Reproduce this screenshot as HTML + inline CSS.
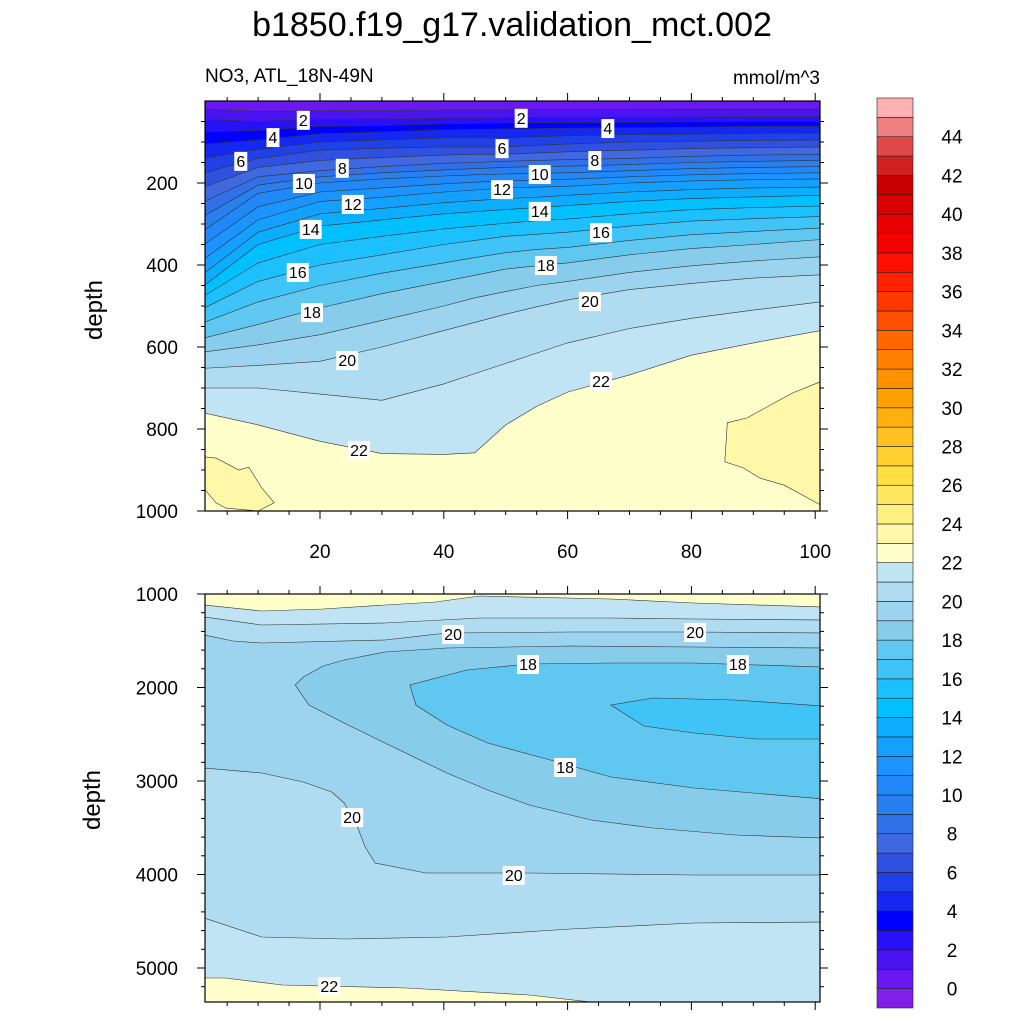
<!DOCTYPE html>
<html><head><meta charset="utf-8"><style>
body{margin:0;background:#fff;}
svg{display:block;font-family:"Liberation Sans",Arial,sans-serif;}
</style></head><body>
<svg id="c" width="1024" height="1024" viewBox="0 0 1024 1024">
<text x="512" y="36" font-size="34" text-anchor="middle">b1850.f19_g17.validation_mct.002</text>
<text x="205" y="82" font-size="19">NO3, ATL_18N-49N</text>
<text x="820" y="84" font-size="19" text-anchor="end">mmol/m^3</text>
<text transform="translate(102,310) rotate(-90)" font-size="24" text-anchor="middle">depth</text>
<text transform="translate(100,800) rotate(-90)" font-size="24" text-anchor="middle">depth</text>
<defs>
<clipPath id="clipTop"><rect x="205" y="101" width="615" height="410"/></clipPath>
<clipPath id="clipBot"><rect x="205" y="594" width="615" height="408"/></clipPath>
</defs>
<g id="top" clip-path="url(#clipTop)"></g>
<g id="bot" clip-path="url(#clipBot)"></g>
<g id="axes"></g>
<g id="cbar"></g>
</svg>
<script>
// ---- data ----
const bandColors = ["#8020E8","#6A18F0","#4A14F0","#2810F8","#0000FF","#1428F0","#2040E8","#3050E0","#4068E0","#3070E8","#2880F0","#2088F8","#1C94FF","#14A0FF","#0CACFF","#00C0FF","#1CC0FF","#40C4F8","#60C8F0","#88CCEC","#9CD4F0","#B0DCF2","#C0E4F4","#FFFFCC","#FFF8A8","#FFF080","#FFE860","#FFE040","#FFD030","#FFC020","#FFB010","#FFA000","#FF9000","#FF8000","#FF6800","#FF5000","#FF3800","#FF2000","#FF1000","#F80000","#E80000","#D80000","#C80000","#D02020","#E04848","#F08080","#FFB0B0"];
const cbarLabels = [0,2,4,6,8,10,12,14,16,18,20,22,24,26,28,30,32,34,36,38,40,42,44];
// upper panel: isoline depths of levels 1..22 at each station
const topStations = [1.3,10,20,30,40,45,50,55,60,70,80,90,100.8];
const topProfiles = [
[20,45,75,105,140,175,210,245,280,315,350,385,420,450,475,505,540,578,612,652,700,761],
[25,50,72,95,118,140,162,185,205,225,258,290,320,350,395,440,490,545,595,645,700,790],
[24,45,62,80,100,120,145,170,185,200,222,245,275,305,350,400,450,505,570,635,715,830],
[23,44,60,75,95,115,138,160,175,190,212,235,262,290,330,375,420,470,535,600,730,860],
[22,42,56,70,90,112,132,152,168,183,202,222,248,275,312,350,395,440,500,560,690,862],
[22,42,55,69,90,112,130,150,165,180,198,217,243,270,305,340,382,425,480,540,665,858],
[22,41,54,68,90,112,130,147,162,178,195,212,238,265,298,330,370,410,465,520,640,790],
[21,40,53,67,87,108,127,145,160,176,193,210,235,260,292,325,362,402,450,502,615,745],
[21,40,53,66,85,105,124,143,159,175,191,208,230,255,288,320,357,395,440,485,590,710],
[21,40,52,65,82,100,120,140,155,170,185,200,222,245,275,305,340,375,418,460,555,668],
[20,39,51,64,81,98,116,135,150,165,180,195,216,238,265,293,326,360,402,445,530,620],
[20,38,50,62,79,96,114,132,147,162,177,192,212,234,260,287,318,350,390,432,510,590],
[20,38,50,62,78,95,112,130,145,160,175,190,210,230,256,282,310,338,380,424,490,560]
];
const patchLeftX = [1.3,3.2,6.9,8.5,10.6,12.6,10,4.8,3.2,1.3];
const patchLeftD = [868,871,900,893,944,980,1000,993,980,946];
const patchRightX = [100.8,96.4,93.7,89,85.8,85.4,88.4,91.1,95,100.8];
const patchRightD = [685,712,734,773,785,880,895,920,937,985];
const topLabels = [[2,17.3,46],[2,52.5,41],[4,12.4,88],[4,66.5,66],[6,7.2,146],[6,49.4,115],[8,23.6,163],[8,64.4,144],[10,17.4,200],[10,55.5,178],[12,25.3,251],[12,49.4,215],[14,18.5,312],[14,55.5,268],[16,16.4,417],[16,65.4,320],[18,18.7,515],[18,56.5,400],[20,63.6,488],[20,24.4,632],[22,65.4,683],[22,26.3,851]];
// lower panel isolines
const l22TopX=[1.3,10.6,20.5,30.5,38.6,45.8,67,80.4,101.3], l22TopD=[1118,1182,1160,1118,1086,1021,1053,1096,1139];
const l21TopX=[1.3,10.6,30.5,45.8,67,80.4,101.3], l21TopD=[1246,1332,1310,1257,1257,1267,1278];
const l20TopX=[1.3,6,10.6,30.5,40.5,60.4,80.4,101.3], l20TopD=[1439,1503,1524,1492,1417,1406,1406,1417];
const l19X=[101.3,80.4,60.4,40.5,30.5,23.9,20.5,17.3,16,18.2,23.9,30.5,40.5,47.1,53.8,63.8,73.8,87.1,101.3];
const l19D=[1578,1567,1556,1578,1620,1706,1770,1888,1973,2187,2380,2594,2914,3096,3257,3417,3503,3578,3610];
const l18X=[101.3,80.4,67.2,53.8,43.7,34.5,35.5,40.5,47.1,57.2,67,80.4,101.3];
const l18D=[1781,1738,1738,1749,1813,1973,2187,2401,2594,2775,2957,3075,3193];
const l17X=[101.3,87.1,73.8,67,72.3,80.4,90.3,101.3], l17D=[2198,2134,2112,2187,2412,2487,2551,2551];
const l20LowX=[1.3,10.6,17.3,21.9,23.9,25.8,27.3,28.9,37.1,53.8,80.4,101.3];
const l20LowD=[2861,2914,3011,3118,3235,3449,3706,3877,3984,3984,4005,4005];
const l21LowX=[1.3,10.6,23.9,40.5,60.4,80.4,101.3], l21LowD=[4465,4668,4690,4668,4583,4519,4508];
const l22LowX=[1.3,4.7,13.9,33.9,53.8,65.1], l22LowD=[5107,5107,5182,5214,5289,5374];
const botLabels=[[20,41.5,1428],[20,80.6,1406],[18,53.6,1749],[18,87.5,1749],[18,59.6,2850],[20,25.2,3385],[20,51.3,4005],[22,21.5,5193]];
const xTicks=[20,40,60,80,100];
const topYTicks=[200,400,600,800,1000];
const botYTicks=[1000,2000,3000,4000,5000];

// ---- scales ----
const NS="http://www.w3.org/2000/svg";
const L=205,R=820;
const sx=v=>320+(v-20)*6.19;
const syT=d=>101+d*0.41;
const syB=d=>594+(d-1000)*0.0935;
function mk(tag,attrs,parent){const e=document.createElementNS(NS,tag);for(const k in attrs)e.setAttribute(k,attrs[k]);parent.appendChild(e);return e;}
function pts(xs,ds,sy){return xs.map((x,i)=>sx(x).toFixed(1)+","+sy(ds[i]).toFixed(1));}
const col=lv=>bandColors[lv+1]; // band lv..lv+1

// ---- upper panel ----
const gT=document.getElementById('top');
let bg=mk('rect',{x:L,y:101,width:615,height:410,fill:col(22)},gT);


for(let k=22;k>=1;k--){
  const ds=topProfiles.map(p=>p[k-1]);
  const p=pts(topStations,ds,syT);
  const poly=mk('polygon',{points:sx(topStations[0])+",90 "+p.join(" ")+" "+sx(100.8)+",90",fill:col(k-1)},gT);
  
  
}
[[patchLeftX,patchLeftD],[patchRightX,patchRightD]].forEach(([xs,ds],i)=>{
  const pg=mk('polygon',{points:pts(xs,ds,syT).join(" "),fill:col(23),stroke:"#333","stroke-width":0.6},gT);
  
  
});
for(let k=1;k<=22;k++){
  const ds=topProfiles.map(p=>p[k-1]);
  const pl=mk('polyline',{points:pts(topStations,ds,syT).join(" "),fill:"none",stroke:"#333","stroke-width":0.6},gT);
  
  
}
function label(g,v,x,y){
  const w=String(v).length>1?22:13;
  const r=mk('rect',{x:x-w/2,y:y-9,width:w,height:19,fill:"#fff"},g);
  
  
  const t=mk('text',{x:x,y:y+6,"font-size":16,"text-anchor":"middle"},g);
  t.textContent=v;
  
  
}
topLabels.forEach(([v,x,d])=>label(gT,v,sx(x),syT(d)));

// ---- lower panel ----
const gB=document.getElementById('bot');
const TOPY=585,BOTY=1010;
function bandPoly(name,pointsArr,fill){
  const p=mk('polygon',{points:pointsArr.join(" "),fill:fill},gB);
  
  
}
let bb=mk('rect',{x:L,y:594,width:615,height:408,fill:col(20)},gB);


bandPoly('lower-band-21-22-top',[L-5+","+TOPY,...pts(l21TopX,l21TopD,syB),R+5+","+TOPY],col(21));
bandPoly('lower-band-22-23-top',[L-5+","+TOPY,...pts(l22TopX,l22TopD,syB),R+5+","+TOPY],col(22));
bandPoly('lower-band-19-20',[...pts(l20TopX,l20TopD,syB),...pts(l20LowX.slice().reverse(),l20LowD.slice().reverse(),syB)],col(19));
bandPoly('lower-band-18-19',[...pts(l19X,l19D,syB),R+10+","+syB(l19D[l19D.length-1]),R+10+","+syB(l19D[0])],col(18));
bandPoly('lower-band-17-18',[...pts(l18X,l18D,syB),R+10+","+syB(l18D[l18D.length-1]),R+10+","+syB(l18D[0])],col(17));
bandPoly('lower-band-16-17',[...pts(l17X,l17D,syB),R+10+","+syB(l17D[l17D.length-1]),R+10+","+syB(l17D[0])],col(16));
bandPoly('lower-band-21-22-bottom',[L-5+","+BOTY,...pts(l21LowX,l21LowD,syB),R+5+","+BOTY],col(21));
bandPoly('lower-band-22-23-bottom',[L-5+","+BOTY,...pts(l22LowX,l22LowD,syB),sx(l22LowX[l22LowX.length-1])+","+BOTY],col(22));
[[l22TopX,l22TopD,'22'],[l21TopX,l21TopD,'21'],[l20TopX,l20TopD,'20'],[l19X,l19D,'19'],[l18X,l18D,'18'],[l17X,l17D,'17'],[l20LowX,l20LowD,'20-lower'],[l21LowX,l21LowD,'21-lower'],[l22LowX,l22LowD,'22-lower']].forEach(([xs,ds,n])=>{
  const pl=mk('polyline',{points:pts(xs,ds,syB).join(" "),fill:"none",stroke:"#333","stroke-width":0.6},gB);
  
  
});
botLabels.forEach(([v,x,d])=>label(gB,v,sx(x),syB(d)));

// ---- axes ----
const gA=document.getElementById('axes');
function frame(y0,y1,name){
  const r=mk('rect',{x:L,y:y0,width:R-L,height:y1-y0,fill:"none",stroke:"#000","stroke-width":1.2},gA);
  
  
}
frame(101,511,'upper-plot-frame');frame(594,1002,'lower-plot-frame');
function tick(x1,y1,x2,y2){const t=mk('line',{x1,y1,x2,y2,stroke:"#000","stroke-width":1},gA);}
[[101,511],[594,1002]].forEach(([y0,y1])=>{
  for(let v=5;v<=100;v+=5){const x=sx(v);const len=(v%20===0)?8:4;tick(x,y1,x,y1+len);tick(x,y0,x,y0-len);}
});
xTicks.forEach(v=>{const t=mk('text',{x:sx(v),y:558,"font-size":19,"text-anchor":"middle"},gA);t.textContent=v;});
for(let d=50;d<=1000;d+=50){const y=syT(d);const len=(d%200===0)?8:4;tick(L-len,y,L,y);tick(R,y,R+len,y);}
topYTicks.forEach(d=>{const t=mk('text',{x:178,y:syT(d)+7,"font-size":19,"text-anchor":"end"},gA);t.textContent=d;});
for(let d=1000;d<=5300;d+=200){const y=syB(d);const len=(d%1000===0)?8:4;tick(L-len,y,L,y);tick(R,y,R+len,y);}
botYTicks.forEach(d=>{const t=mk('text',{x:178,y:syB(d)+7,"font-size":19,"text-anchor":"end"},gA);t.textContent=d;});

// ---- colorbar ----
const gC=document.getElementById('cbar');
const cbTop=98,cbBot=1008,n=bandColors.length,bh=(cbBot-cbTop)/n;
bandColors.forEach((c,i)=>{
  const r=mk('rect',{x:877,y:cbBot-(i+1)*bh,width:36,height:bh,fill:c,stroke:"#222","stroke-width":0.6},gC);
  
  
});
cbarLabels.forEach(v=>{
  const y=cbBot-(v+1)*bh;
  const t=mk('text',{x:952,y:y+7,"font-size":19,"text-anchor":"middle"},gC);
  t.textContent=v;
  
  
});
</script>
</body></html>
